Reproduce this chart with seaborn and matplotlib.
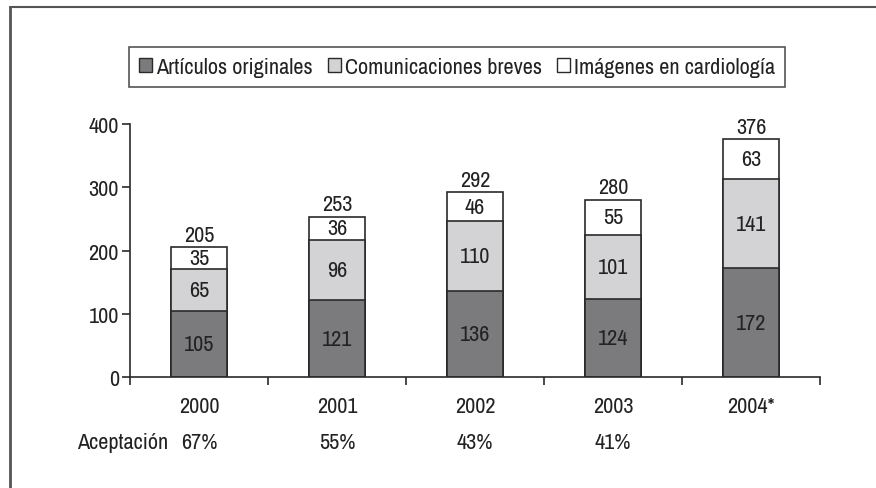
import matplotlib
matplotlib.use("Agg")
import matplotlib.pyplot as plt
from matplotlib.lines import Line2D
from matplotlib.patches import Patch
from matplotlib import font_manager
import seaborn as sns
import pandas as pd
import numpy as np

years = ["2000", "2001", "2002", "2003", "2004*"]
originales = [105, 121, 136, 124, 172]
breves = [65, 96, 110, 101, 141]
imagenes = [35, 36, 46, 55, 63]
totales = [205, 253, 292, 280, 376]
aceptacion = ["67%", "55%", "43%", "41%", ""]
series_names = ["Artículos originales", "Comunicaciones breves", "Imágenes en cardiología"]
colors = ["#7b7b7d", "#d3d3d5", "#ffffff"]

sns.set_theme(style="white")
names = sorted({f.name for f in font_manager.fontManager.ttflist})
narrow = [n for n in names if "Narrow" in n or "Condensed" in n]
fam = narrow[0] if narrow else "DejaVu Sans"
plt.rcParams['font.family'] = [fam, 'DejaVu Sans']
plt.rcParams['font.stretch'] = 'condensed'

df = pd.DataFrame({"year": years, "orig": originales, "brev": breves, "img": imagenes})
df["lvl2"] = df["orig"] + df["brev"]
df["lvl3"] = df["lvl2"] + df["img"]

fig = plt.figure(figsize=(8.76, 4.89), dpi=100)
ax = fig.add_axes([130/876, 1-378/489, (820-130)/876, (378-125)/489])

edge = "#2a2a2a"
for col, c in [("lvl3", colors[2]), ("lvl2", colors[1]), ("orig", colors[0])]:
    sns.barplot(data=df, x="year", y=col, color=c, width=0.4, edgecolor=edge,
                linewidth=1.2, saturation=1, ax=ax, order=years)

txt = "#222222"
fs = 16
for i in range(len(years)):
    o, b, im = originales[i], breves[i], imagenes[i]
    ax.text(i, o/2, str(o), ha="center", va="center", fontsize=fs, color=txt)
    ax.text(i, o + b/2, str(b), ha="center", va="center", fontsize=fs, color=txt)
    ax.text(i, o + b + im/2, str(im), ha="center", va="center", fontsize=fs, color=txt)
    ax.text(i, totales[i] + 20, str(totales[i]), ha="center", va="center", fontsize=fs, color=txt)
    if aceptacion[i]:
        ax.text(i, -102, aceptacion[i], ha="center", va="center", fontsize=fs, color=txt,
                clip_on=False)
ax.text(-0.884, -102, "Aceptación", ha="left", va="center", fontsize=fs, color=txt, clip_on=False)

ax.set_xlim(-0.5, 4.5)
ax.set_ylim(0, 400)
ax.set_yticks([0, 100, 200, 300, 400])
ax.set_xticks(range(len(years)))
ax.set_xticklabels(years)
ax.set_xticks(np.arange(-0.5, 5, 1), minor=True)
ax.tick_params(axis="x", which="major", length=0, labelsize=fs, labelcolor=txt, pad=14)
ax.tick_params(axis="x", which="minor", length=6, width=1.2, color=edge, direction="out", bottom=True)
ax.tick_params(axis="y", length=6, width=1.2, color=edge, direction="out", labelsize=fs,
               labelcolor=txt, left=True, pad=2)
ax.set_xlabel("")
ax.set_ylabel("")
for s in ["top", "right"]:
    ax.spines[s].set_visible(False)
for s in ["left", "bottom"]:
    ax.spines[s].set_color(edge)
    ax.spines[s].set_linewidth(1.2)

handles = [Patch(facecolor=c, edgecolor=edge, linewidth=1.0) for c in colors]
leg = fig.legend(handles, series_names, loc="center", bbox_to_anchor=(457/876, 1-68/489),
                 ncol=3, frameon=True, fontsize=fs, handlelength=0.6, handleheight=0.6,
                 handletextpad=0.15, columnspacing=0.7, borderpad=0.45, borderaxespad=0,
                 fancybox=False)
leg.get_frame().set_edgecolor(edge)
leg.get_frame().set_linewidth(1.2)
for t in leg.get_texts():
    t.set_color(txt)

fig.add_artist(Line2D([10/876, 10/876], [0, 1-8/489], color="#555555", linewidth=2,
                      transform=fig.transFigure))
fig.add_artist(Line2D([10/876, 1], [1-8/489, 1-8/489], color="#555555", linewidth=1.5,
                      transform=fig.transFigure))

fig.savefig("out.png", dpi=100)
